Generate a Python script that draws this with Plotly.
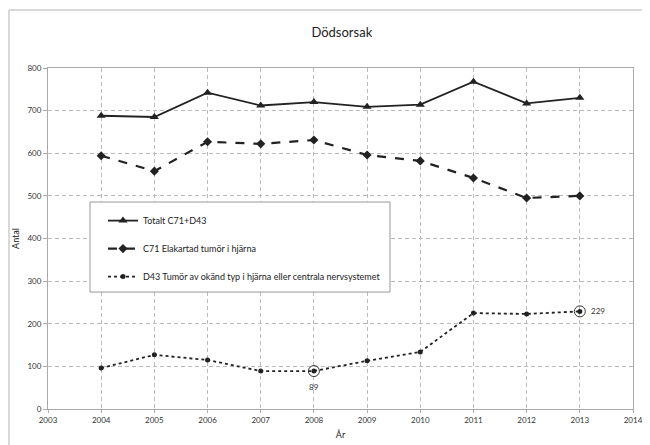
import plotly.graph_objects as go

years = [2004, 2005, 2006, 2007, 2008, 2009, 2010, 2011, 2012, 2013]
totalt = [688, 685, 742, 712, 720, 709, 714, 768, 717, 730]
c71 = [594, 558, 627, 622, 631, 596, 582, 542, 495, 500]
d43 = [96, 127, 115, 89, 89, 113, 134, 225, 223, 229]
names = ["Totalt C71+D43", "C71 Elakartad tumör i hjärna",
         "D43 Tumör av okänd typ i hjärna eller centrala nervsystemet"]
highlight_years = [2008, 2013]
highlight_vals = [89, 229]

FONT = "Lato"
ink = "#222222"

fig = go.Figure()
fig.add_trace(go.Scatter(x=years, y=totalt, name=names[0], mode="lines+markers",
                         line=dict(color=ink, width=1.8),
                         marker=dict(symbol="triangle-up", size=8, color=ink),
                         legendgroup="a"))
fig.add_trace(go.Scatter(x=years, y=c71, name=names[1], mode="lines+markers",
                         line=dict(color=ink, width=2.2, dash="dash"),
                         marker=dict(symbol="diamond", size=7, color=ink),
                         legendgroup="b"))
fig.add_trace(go.Scatter(x=years, y=d43, name=names[2], mode="lines+markers",
                         line=dict(color=ink, width=1.8, dash="dot"),
                         marker=dict(symbol="circle", size=5, color=ink),
                         legendgroup="c"))
fig.add_trace(go.Scatter(x=highlight_years, y=highlight_vals, mode="markers",
                         marker=dict(symbol="circle-open", size=11, color="#333",
                                     line=dict(width=1)),
                         showlegend=False, hoverinfo="skip"))

fig.add_annotation(x=highlight_years[0], y=highlight_vals[0], text=str(highlight_vals[0]),
                   showarrow=False, yshift=-16, font=dict(size=8, color="#333", family=FONT))
fig.add_annotation(x=highlight_years[1], y=highlight_vals[1], text=str(highlight_vals[1]),
                   showarrow=False, xanchor="left", xshift=9, font=dict(size=8, color="#333", family=FONT))

# outer frame (left and top edges)
fig.add_shape(type="line", xref="paper", yref="paper", x0=-0.0667, x1=1.1, y0=1.17, y1=1.17,
              line=dict(color="#cccccc", width=1.5))
fig.add_shape(type="line", xref="paper", yref="paper", x0=-0.0667, x1=-0.0667, y0=1.17, y1=-0.2,
              line=dict(color="#cccccc", width=1.5))
# legend frame
fig.add_shape(type="rect", xref="paper", yref="paper", x0=0.0718, x1=0.5846, y0=0.343, y1=0.607,
              line=dict(color="#999999", width=1), fillcolor="white", layer="above")

fig.update_layout(
    width=642, height=437,
    margin=dict(l=40, r=17, t=60, b=36, autoexpand=False),
    paper_bgcolor="white", plot_bgcolor="white",
    font=dict(family=FONT, color="#333"),
    title=dict(text="Dödsorsak", x=0.52, xanchor="center", y=0.945, yanchor="middle",
               font=dict(size=13, color="#222", family=FONT)),
    legend=dict(x=0.094, y=0.595, xanchor="left", yanchor="top",
                borderwidth=0, bgcolor="rgba(0,0,0,0)",
                font=dict(size=9, color="#222", family=FONT),
                tracegroupgap=9, itemwidth=30),
    showlegend=True,
)
fig.update_xaxes(range=[2003, 2014], tickmode="linear", tick0=2003, dtick=1,
                 showgrid=True, gridcolor="#bbbbbb", griddash="4px,3px", gridwidth=1,
                 showline=True, linecolor="#aaaaaa", mirror=True, linewidth=1,
                 ticks="outside", ticklen=3, tickcolor="#aaaaaa", automargin=False,
                 tickfont=dict(size=8, color="#333"), zeroline=False,
                 title=dict(text="År", font=dict(size=9, color="#222"), standoff=8))
fig.update_yaxes(range=[0, 800], tickmode="linear", tick0=0, dtick=100,
                 showgrid=True, gridcolor="#bbbbbb", griddash="4px,3px", gridwidth=1,
                 showline=True, linecolor="#aaaaaa", mirror=True, linewidth=1,
                 ticks="outside", ticklen=4, tickcolor="#aaaaaa", automargin=False,
                 tickfont=dict(size=8, color="#333"), zeroline=False,
                 title=dict(text="Antal", font=dict(size=9, color="#222"), standoff=6))

fig.write_html("out.html")
